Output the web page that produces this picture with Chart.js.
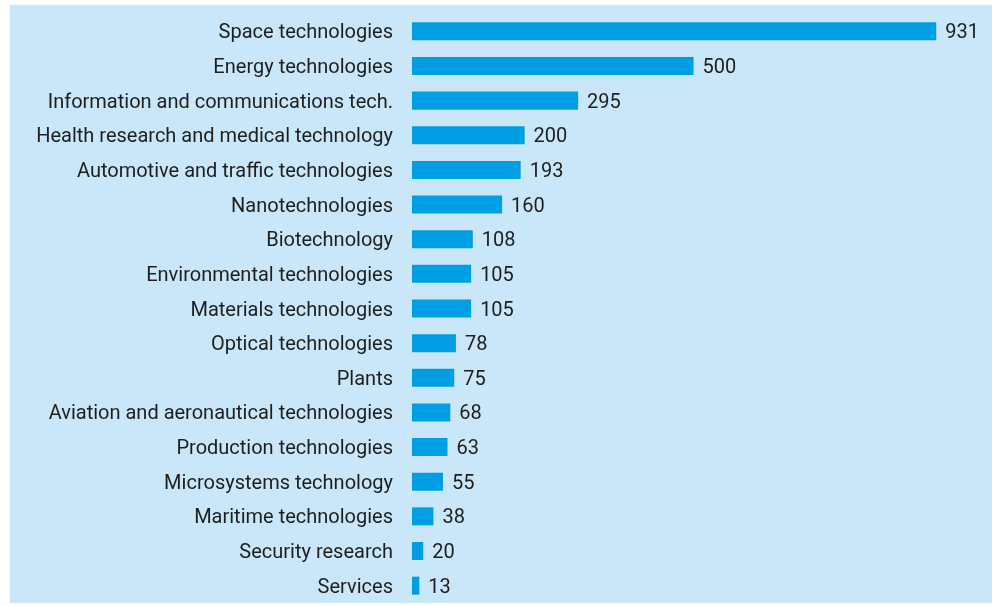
<!DOCTYPE html>
<html>
<head>
<meta charset="utf-8">
<script src="https://cdn.jsdelivr.net/npm/chart.js@4/dist/chart.umd.min.js"></script>
<style>
  html, body { margin: 0; padding: 0; background: #fff; }
  #wrap { width: 992px; height: 606px; }
</style>
</head>
<body>
<div id="wrap"><canvas id="chart"></canvas></div>
<script>
const categorias = [
  'Space technologies', 'Energy technologies', 'Information and communications tech.',
  'Health research and medical technology', 'Automotive and traffic technologies',
  'Nanotechnologies', 'Biotechnology', 'Environmental technologies', 'Materials technologies',
  'Optical technologies', 'Plants', 'Aviation and aeronautical technologies',
  'Production technologies', 'Microsystems technology', 'Maritime technologies',
  'Security research', 'Services'
];
const valores = [931, 500, 295, 200, 193, 160, 108, 105, 105, 78, 75, 68, 63, 55, 38, 20, 13];

const FONT = 'Roboto, "Liberation Sans", sans-serif';

// panel background
const fondo = {
  id: 'fondo',
  beforeDraw(chart) {
    const ctx = chart.ctx;
    ctx.save();
    ctx.fillStyle = '#c9e7f8';
    ctx.fillRect(10, 5, 982, 598);
    ctx.restore();
  }
};

// value labels at bar ends
const etiquetas = {
  id: 'etiquetas',
  afterDatasetsDraw(chart) {
    const ctx = chart.ctx;
    const meta = chart.getDatasetMeta(0);
    ctx.save();
    ctx.font = '20px ' + FONT;
    ctx.fillStyle = '#1e1e1e';
    ctx.textAlign = 'left';
    ctx.textBaseline = 'middle';
    meta.data.forEach((bar, i) => {
      ctx.fillText(String(valores[i]), bar.x + 9, bar.y + 2);
    });
    ctx.restore();
  }
};

new Chart(document.getElementById('chart'), {
  type: 'bar',
  data: {
    labels: categorias,
    datasets: [{
      data: valores,
      backgroundColor: '#009fe3',
      borderWidth: 0,
      categoryPercentage: 1,
      barPercentage: 0.52
    }]
  },
  options: {
    indexAxis: 'y',
    responsive: true,
    maintainAspectRatio: false,
    animation: false,
    layout: { padding: { top: 14, bottom: 3, left: 10, right: 0 } },
    plugins: { legend: { display: false }, tooltip: { enabled: false } },
    scales: {
      x: { display: false, min: 0, max: 1030 },
      y: {
        grid: { display: false, drawTicks: false },
        border: { display: false },
        ticks: { padding: 19, labelOffset: 2, color: '#1e1e1e', font: { family: FONT, size: 20 } },
        afterFit: s => { s.width = 402; s.paddingTop = 0; s.paddingBottom = 0; }
      }
    }
  },
  plugins: [fondo, etiquetas]
});
</script>
</body>
</html>
